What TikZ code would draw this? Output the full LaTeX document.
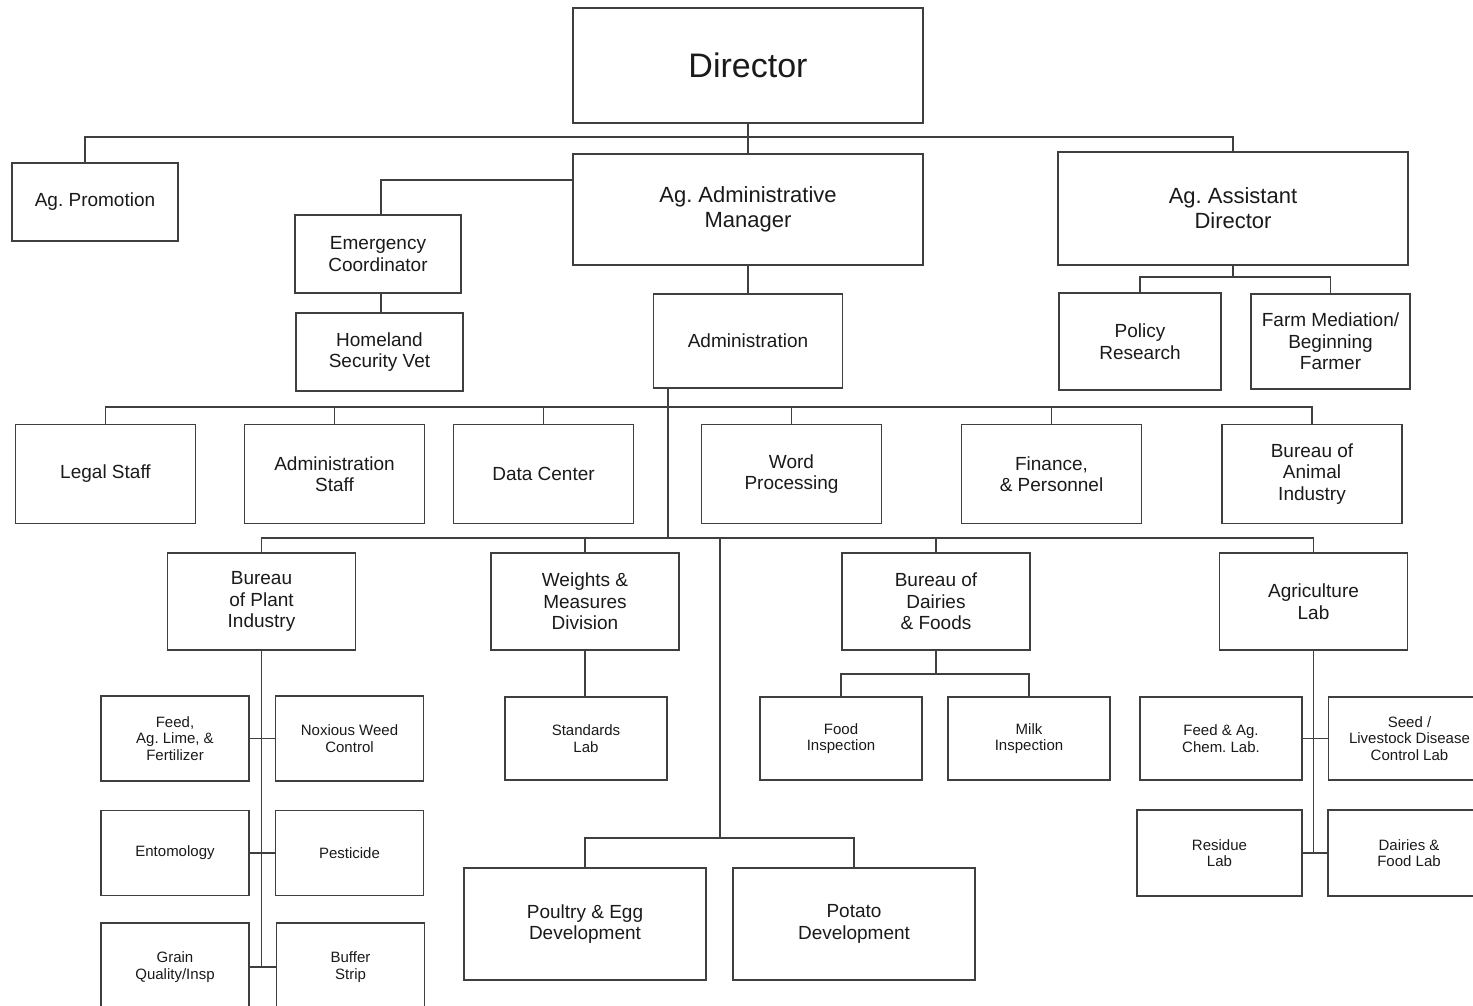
\documentclass[tikz,border=0pt]{standalone}
\usepackage{fontspec}
\setmainfont{Liberation Sans}
\newcommand\chartbig{\fontsize{34pt}{40pt}\selectfont}
\newcommand\charthead{\fontsize{22pt}{25pt}\selectfont}
\newcommand\chartmed{\fontsize{19pt}{21.5pt}\selectfont}
\newcommand\chartsmall{\fontsize{15pt}{16.5pt}\selectfont}
\definecolor{linegray}{HTML}{3F3F3F}
\definecolor{textblack}{HTML}{1A1A1A}
\tikzset{
  unit/.style={draw=linegray, line width=1.6pt, inner sep=0pt, align=center, text=textblack, font=\chartmed},
  wire/.style={draw=linegray, line width=1.6pt},
  lead/.style={unit, minimum width=350pt, font=\charthead},
  office/.style={unit, minimum width=180pt, minimum height=99pt},
  bureau/.style={unit, minimum width=188pt, minimum height=97pt},
  lab/.style={unit, minimum width=162pt, minimum height=83pt, font=\chartsmall},
  plot/.style={unit, minimum width=148pt, minimum height=85pt, font=\chartsmall},
  devel/.style={unit, minimum width=242pt, minimum height=112pt},
}
\begin{document}
\frenchspacing
\begin{tikzpicture}[x=1pt, y=-1pt]
  \useasboundingbox (0,0) rectangle (1473,1005);
  \clip (0,0) rectangle (1473,1005);

  \node[lead, minimum height=115pt, font=\chartbig] (director) at (748,65.5) {Director};
  \node[lead, minimum height=111pt] (admmgr) at (748,209.5) {Ag. Administrative\\Manager};
  \node[lead, minimum height=113pt] (asstdir) at (1233,208.5) {Ag. Assistant\\Director};
  \node[unit, minimum width=166pt, minimum height=78pt] (promo) at (95,202) {Ag. Promotion};
  \node[unit, minimum width=166pt, minimum height=78pt] (emerg) at (378,254) {Emergency\\Coordinator};
  \node[unit, minimum width=167pt, minimum height=78pt] (homeland) at (379.5,352) {Homeland\\Security Vet};
  \node[unit, minimum width=189pt, minimum height=94pt] (admin) at (748,341) {Administration};
  \node[unit, minimum width=162pt, minimum height=97pt] (policy) at (1140,341.5) {Policy\\Research};
  \node[unit, minimum width=159pt, minimum height=95pt] (farm) at (1330.5,341.5) {Farm Mediation/\\Beginning\\Farmer};

  \node[office] (legal) at (105.5,474) {Legal Staff};
  \node[office] (adminstaff) at (334.5,474) {Administration\\Staff};
  \node[office] (datacenter) at (543.5,474) {Data Center};
  \node[office] (wordproc) at (791.5,474) {Word\\Processing};
  \node[office] (finance) at (1051.5,474) {Finance,\\\& Personnel};
  \node[office] (animal) at (1312,474) {Bureau of\\Animal\\Industry};

  \node[bureau] (plant) at (261.5,601.5) {Bureau\\of Plant\\Industry};
  \node[bureau] (weights) at (585,601.5) {Weights \&\\Measures\\Division};
  \node[bureau] (dairies) at (936,601.5) {Bureau of\\Dairies\\\& Foods};
  \node[bureau] (aglab) at (1313.5,601.5) {Agriculture\\Lab};

  \node[plot] (feed) at (175,738.5) {Feed,\\Ag. Lime, \&\\Fertilizer};
  \node[plot] (noxious) at (349.5,738.5) {Noxious Weed\\Control};
  \node[plot] (entomology) at (175,853) {Entomology};
  \node[plot] (pesticide) at (349.5,853) {Pesticide};
  \node[plot, minimum height=88pt] (grain) at (175,967) {Grain\\Quality/Insp};
  \node[plot, minimum height=88pt] (buffer) at (350.5,967) {Buffer\\Strip};

  \node[lab] (standards) at (586,738.5) {Standards\\Lab};
  \node[lab] (food) at (841,738.5) {Food\\Inspection};
  \node[lab] (milk) at (1029,738.5) {Milk\\Inspection};
  \node[lab] (feedchem) at (1221,738.5) {Feed \& Ag.\\Chem. Lab.};
  \node[lab] (seed) at (1409.5,738.5) {Seed /\\Livestock Disease\\Control Lab};
  \node[lab, minimum width=165pt, minimum height=86pt] (residue) at (1219.5,853) {Residue\\Lab};
  \node[lab, minimum height=86pt] (dairylab) at (1409,853) {Dairies \&\\Food Lab};

  \node[devel] (poultry) at (585,924) {Poultry \& Egg\\Development};
  \node[devel] (potato) at (854,924) {Potato\\Development};

  \coordinate (top) at (748,137);
  \coordinate (b2) at (668,407);
  \coordinate (b3) at (668,538);
  \coordinate (b4) at (720,838);

  \draw[wire] (director.south) -- (admmgr.north);
  \draw[wire] ([xshift=-10pt]promo.north) |- (top) -| (asstdir.north);
  \draw[wire] ([xshift=3pt]emerg.north) |- ([yshift=29.5pt]admmgr.west);
  \draw[wire] ([xshift=3pt]emerg.south) -- ([xshift=3pt]emerg.south |- homeland.north);
  \draw[wire] (admmgr.south) -- (admin.north);
  \draw[wire] (asstdir.south) -- ++(0,11) coordinate (b1);
  \draw[wire] (policy.north) |- (b1) -| (farm.north);

  \draw[wire] (admin.south west -| b3) -- (b3);
  \draw[wire] (legal.north) |- (b2) -| (animal.north);
  \foreach \n in {adminstaff,datacenter,wordproc,finance}
    \draw[wire] (\n.north) -- (\n.north |- b2);

  \draw[wire] (plant.north) |- (b3) -| (aglab.north);
  \foreach \n in {weights,dairies}
    \draw[wire] (\n.north) -- (\n.north |- b3);
  \draw[wire] (b3 -| b4) -- (b4);
  \draw[wire] (poultry.north) |- (b4) -| (potato.north);

  \draw[wire] (plant.south) -- (plant.south |- grain.east);
  \draw[wire] (feed.east) -- (noxious.west);
  \draw[wire] (entomology.east) -- (pesticide.west);
  \draw[wire] (grain.east) -- (buffer.west);

  \draw[wire] (weights.south) -- (weights.south |- standards.north);
  \draw[wire] (dairies.south) -- ++(0,23) coordinate (b5);
  \draw[wire] (food.north) |- (b5) -| (milk.north);

  \draw[wire] (aglab.south) -- (aglab.south |- residue.east);
  \draw[wire] (feedchem.east) -- (seed.west);
  \draw[wire] (residue.east) -- (dairylab.west);
\end{tikzpicture}
\end{document}
